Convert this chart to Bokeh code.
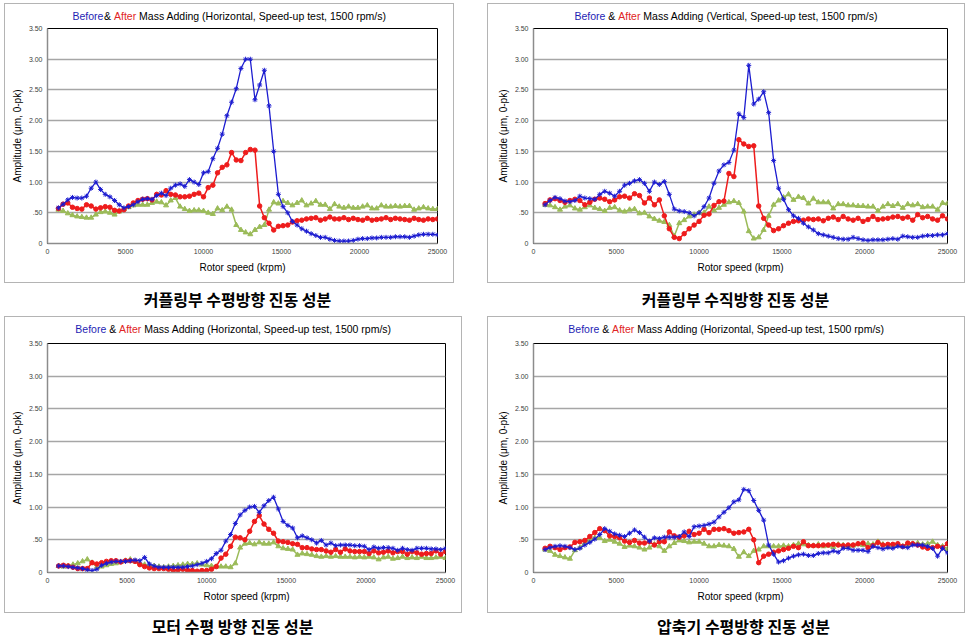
from bokeh.plotting import figure
from bokeh.layouts import column, row
from bokeh.models import FixedTicker, Range1d
from bokeh.core.properties import value
from bokeh.embed import file_html
from bokeh.resources import INLINE

# ---------------- data ----------------
SPEED = [700, 1000, 1300, 1600, 1900, 2200, 2500, 2800, 3100, 3400,
         3700, 4000, 4300, 4600, 4900, 5200, 5500, 5800, 6100, 6400,
         6700, 7000, 7300, 7600, 7900, 8200, 8500, 8800, 9100, 9400,
         9700, 10000, 10300, 10600, 10900, 11200, 11500, 11800, 12100, 12400,
         12700, 13000, 13300, 13600, 13900, 14200, 14500, 14800, 15100, 15400,
         15700, 16000, 16300, 16600, 16900, 17200, 17500, 17800, 18100, 18400,
         18700, 19000, 19300, 19600, 19900, 20200, 20500, 20800, 21100, 21400,
         21700, 22000, 22300, 22600, 22900, 23200, 23500, 23800, 24100, 24400,
         24700, 25000]

# Coupling, horizontal
P1_BEFORE = [0.58, 0.64, 0.71, 0.75, 0.74, 0.74, 0.77, 0.90, 1.00, 0.88,
             0.80, 0.76, 0.70, 0.63, 0.58, 0.60, 0.63, 0.68, 0.72, 0.73,
             0.72, 0.78, 0.82, 0.78, 0.90, 0.95, 0.97, 0.93, 1.04, 1.00,
             0.96, 1.15, 1.17, 1.38, 1.55, 1.78, 2.08, 2.30, 2.52, 2.85,
             3.00, 3.00, 2.34, 2.58, 2.82, 2.24, 1.50, 0.80, 0.60, 0.50,
             0.36, 0.30, 0.24, 0.20, 0.16, 0.13, 0.10, 0.10, 0.07, 0.05,
             0.04, 0.04, 0.04, 0.05, 0.07, 0.08, 0.08, 0.09, 0.09, 0.10,
             0.10, 0.10, 0.11, 0.11, 0.11, 0.10, 0.12, 0.14, 0.15, 0.15,
             0.15, 0.14]
P1_AFTER = [0.57, 0.64, 0.66, 0.59, 0.57, 0.56, 0.63, 0.61, 0.56, 0.58,
            0.60, 0.59, 0.54, 0.53, 0.55, 0.61, 0.66, 0.70, 0.72, 0.73,
            0.71, 0.80, 0.79, 0.86, 0.80, 0.79, 0.76, 0.76, 0.77, 0.80,
            0.82, 0.76, 0.91, 0.95, 1.15, 1.24, 1.28, 1.48, 1.36, 1.35,
            1.48, 1.53, 1.52, 0.61, 0.42, 0.33, 0.22, 0.28, 0.29, 0.30,
            0.35, 0.37, 0.38, 0.40, 0.41, 0.42, 0.38, 0.40, 0.43, 0.40,
            0.40, 0.42, 0.39, 0.41, 0.39, 0.38, 0.41, 0.38, 0.39, 0.40,
            0.42, 0.39, 0.41, 0.40, 0.39, 0.38, 0.41, 0.39, 0.38, 0.40,
            0.39, 0.40]
P1_THIRD = [0.55, 0.53, 0.49, 0.46, 0.44, 0.43, 0.42, 0.42, 0.47, 0.51,
            0.52, 0.50, 0.47, 0.52, 0.56, 0.59, 0.62, 0.63, 0.63, 0.63,
            0.66, 0.68, 0.67, 0.62, 0.70, 0.74, 0.60, 0.56, 0.53, 0.54,
            0.54, 0.53, 0.50, 0.48, 0.57, 0.54, 0.60, 0.55, 0.30, 0.22,
            0.18, 0.15, 0.22, 0.27, 0.30, 0.55, 0.67, 0.65, 0.69, 0.66,
            0.62, 0.66, 0.70, 0.62, 0.65, 0.69, 0.63, 0.63, 0.56, 0.64,
            0.60, 0.58, 0.60, 0.58, 0.58, 0.60, 0.62, 0.57, 0.57, 0.62,
            0.60, 0.60, 0.61, 0.60, 0.61, 0.61, 0.55, 0.57, 0.59, 0.57,
            0.56, 0.56]

# Coupling, vertical
P2_BEFORE = [0.63, 0.70, 0.75, 0.73, 0.69, 0.68, 0.70, 0.77, 0.74, 0.73,
             0.72, 0.80, 0.85, 0.82, 0.77, 0.85, 0.95, 0.98, 1.02, 1.04,
             0.98, 0.85, 1.00, 0.96, 1.01, 0.80, 0.56, 0.53, 0.52, 0.50,
             0.45, 0.50, 0.60, 0.74, 0.98, 1.18, 1.28, 1.32, 1.52, 2.11,
             2.05, 2.90, 2.27, 2.35, 2.47, 2.13, 1.35, 0.90, 0.72, 0.55,
             0.45, 0.41, 0.33, 0.27, 0.22, 0.16, 0.14, 0.12, 0.10, 0.08,
             0.07, 0.07, 0.10, 0.08, 0.06, 0.05, 0.06, 0.06, 0.06, 0.07,
             0.08, 0.07, 0.12, 0.11, 0.10, 0.10, 0.12, 0.13, 0.13, 0.14,
             0.14, 0.16]
P2_AFTER = [0.65, 0.71, 0.73, 0.70, 0.67, 0.70, 0.72, 0.70, 0.63, 0.67,
            0.72, 0.74, 0.72, 0.68, 0.71, 0.76, 0.77, 0.74, 0.81, 0.78,
            0.66, 0.74, 0.63, 0.71, 0.45, 0.24, 0.10, 0.08, 0.16, 0.24,
            0.30, 0.36, 0.46, 0.48, 0.62, 0.68, 0.69, 1.14, 1.09, 1.69,
            1.62, 1.58, 1.59, 0.61, 0.41, 0.30, 0.21, 0.24, 0.29, 0.33,
            0.36, 0.37, 0.38, 0.40, 0.39, 0.40, 0.37, 0.41, 0.43, 0.39,
            0.44, 0.40, 0.38, 0.41, 0.36, 0.39, 0.44, 0.39, 0.40, 0.41,
            0.43, 0.44, 0.41, 0.43, 0.38, 0.47, 0.42, 0.44, 0.40, 0.38,
            0.45, 0.40]
P2_THIRD = [0.63, 0.62, 0.59, 0.55, 0.60, 0.62, 0.57, 0.55, 0.59, 0.62,
            0.58, 0.56, 0.53, 0.58, 0.59, 0.54, 0.52, 0.55, 0.56, 0.49,
            0.50, 0.44, 0.40, 0.37, 0.35, 0.30, 0.12, 0.33, 0.38, 0.44,
            0.47, 0.50, 0.50, 0.60, 0.54, 0.58, 0.63, 0.67, 0.69, 0.66,
            0.52, 0.20, 0.08, 0.10, 0.22, 0.45, 0.63, 0.70, 0.75, 0.80,
            0.71, 0.76, 0.74, 0.65, 0.73, 0.67, 0.67, 0.67, 0.57, 0.64,
            0.64, 0.62, 0.62, 0.61, 0.61, 0.60, 0.60, 0.53, 0.60, 0.64,
            0.61, 0.64, 0.58, 0.64, 0.62, 0.64, 0.59, 0.60, 0.60, 0.55,
            0.66, 0.65]

# Motor, horizontal
P3_BEFORE = [0.10, 0.10, 0.09, 0.08, 0.07, 0.06, 0.04, 0.03, 0.05, 0.11,
             0.14, 0.16, 0.17, 0.17, 0.17, 0.18, 0.19, 0.18, 0.23, 0.13,
             0.10, 0.08, 0.08, 0.08, 0.08, 0.08, 0.08, 0.09, 0.10, 0.12,
             0.14, 0.17, 0.21, 0.29, 0.34, 0.48, 0.58, 0.75, 0.88, 0.95,
             1.00, 1.01, 0.92, 1.02, 1.10, 1.15, 0.97, 0.78, 0.72, 0.68,
             0.53, 0.56, 0.53, 0.50, 0.45, 0.49, 0.42, 0.45, 0.41, 0.42,
             0.42, 0.42, 0.41, 0.41, 0.40, 0.35, 0.39, 0.37, 0.38, 0.38,
             0.37, 0.34, 0.37, 0.35, 0.34, 0.37, 0.37, 0.37, 0.36, 0.36,
             0.35, 0.37]
P3_AFTER = [0.10, 0.11, 0.10, 0.08, 0.06, 0.06, 0.06, 0.15, 0.13, 0.15,
            0.17, 0.18, 0.18, 0.16, 0.18, 0.18, 0.17, 0.12, 0.09, 0.07,
            0.06, 0.06, 0.06, 0.05, 0.03, 0.04, 0.05, 0.03, 0.03, 0.02,
            0.03, 0.03, 0.05, 0.09, 0.22, 0.28, 0.40, 0.54, 0.53, 0.50,
            0.63, 0.78, 0.87, 0.74, 0.66, 0.60, 0.48, 0.47, 0.46, 0.44,
            0.43, 0.38, 0.38, 0.36, 0.35, 0.35, 0.33, 0.31, 0.35, 0.31,
            0.36, 0.33, 0.32, 0.32, 0.32, 0.29, 0.33, 0.30, 0.31, 0.33,
            0.30, 0.32, 0.32, 0.28, 0.32, 0.30, 0.28, 0.29, 0.29, 0.33,
            0.28, 0.32]
P3_THIRD = [0.10, 0.09, 0.10, 0.12, 0.14, 0.17, 0.20, 0.15, 0.08, 0.09,
            0.11, 0.13, 0.14, 0.16, 0.18, 0.20, 0.17, 0.14, 0.12, 0.11,
            0.10, 0.09, 0.08, 0.09, 0.10, 0.11, 0.12, 0.13, 0.13, 0.14,
            0.12, 0.11, 0.10, 0.09, 0.09, 0.09, 0.08, 0.14, 0.38, 0.44,
            0.45, 0.43, 0.46, 0.44, 0.44, 0.46, 0.40, 0.37, 0.36, 0.35,
            0.27, 0.29, 0.28, 0.27, 0.25, 0.24, 0.25, 0.24, 0.25, 0.24,
            0.24, 0.24, 0.23, 0.24, 0.23, 0.24, 0.23, 0.20, 0.23, 0.24,
            0.21, 0.22, 0.24, 0.22, 0.23, 0.22, 0.24, 0.22, 0.22, 0.23,
            0.24, 0.22]

# Compressor, horizontal
P4_BEFORE = [0.35, 0.38, 0.40, 0.41, 0.40, 0.38, 0.35, 0.37, 0.42, 0.46,
             0.51, 0.58, 0.67, 0.63, 0.59, 0.57, 0.55, 0.60, 0.65, 0.61,
             0.54, 0.48, 0.53, 0.52, 0.54, 0.54, 0.54, 0.55, 0.62, 0.55,
             0.70, 0.71, 0.72, 0.74, 0.77, 0.85, 0.92, 0.99, 1.08, 1.11,
             1.27, 1.25, 1.10, 0.95, 0.80, 0.42, 0.28, 0.16, 0.18, 0.22,
             0.25, 0.27, 0.28, 0.26, 0.26, 0.29, 0.30, 0.30, 0.33, 0.31,
             0.37, 0.37, 0.34, 0.34, 0.34, 0.32, 0.40, 0.38, 0.36, 0.38,
             0.37, 0.40, 0.39, 0.38, 0.42, 0.42, 0.42, 0.40, 0.37, 0.25,
             0.37, 0.30]
P4_AFTER = [0.37, 0.40, 0.38, 0.35, 0.38, 0.39, 0.46, 0.47, 0.49, 0.55,
            0.61, 0.67, 0.64, 0.56, 0.55, 0.53, 0.48, 0.46, 0.49, 0.45,
            0.45, 0.47, 0.42, 0.47, 0.47, 0.62, 0.56, 0.54, 0.56, 0.63,
            0.58, 0.60, 0.66, 0.61, 0.66, 0.66, 0.67, 0.64, 0.60, 0.61,
            0.62, 0.66, 0.50, 0.15, 0.25, 0.28, 0.31, 0.33, 0.35, 0.37,
            0.40, 0.38, 0.47, 0.41, 0.41, 0.41, 0.42, 0.42, 0.43, 0.42,
            0.41, 0.42, 0.42, 0.44, 0.45, 0.38, 0.41, 0.46, 0.42, 0.43,
            0.43, 0.44, 0.40, 0.45, 0.44, 0.42, 0.39, 0.37, 0.38, 0.40,
            0.38, 0.44]
P4_THIRD = [0.35, 0.33, 0.27, 0.25, 0.23, 0.21, 0.34, 0.38, 0.45, 0.50,
            0.53, 0.53, 0.48, 0.50, 0.47, 0.44, 0.39, 0.41, 0.40, 0.38,
            0.35, 0.38, 0.43, 0.40, 0.33, 0.40, 0.45, 0.49, 0.48, 0.46,
            0.47, 0.47, 0.44, 0.40, 0.40, 0.42, 0.41, 0.40, 0.36, 0.24,
            0.31, 0.25, 0.33, 0.35, 0.40, 0.40, 0.40, 0.40, 0.41, 0.40,
            0.42, 0.44, 0.43, 0.42, 0.41, 0.43, 0.40, 0.41, 0.39, 0.43,
            0.42, 0.40, 0.41, 0.43, 0.42, 0.44, 0.43, 0.47, 0.43, 0.39,
            0.41, 0.43, 0.40, 0.42, 0.44, 0.45, 0.43, 0.44, 0.47, 0.42,
            0.40, 0.36]

X_TICKS = [0, 5000, 10000, 15000, 20000, 25000]
Y_TICKS = [0.0, 0.5, 1.0, 1.5, 2.0, 2.5, 3.0, 3.5]
Y_TICK_LABELS = ["0", ".50", "1.00", "1.50", "2.00", "2.50", "3.00", "3.50"]
DIRECTIONS = ["Horizontal", "Vertical", "Horizontal", "Horizontal"]
CAPTIONS = ["커플링부 수평방향 진동 성분", "커플링부 수직방향 진동 성분",
            "모터 수평 방향 진동 성분", "압축기 수평방향 진동 성분"]
X_LABEL = "Rotor speed (krpm)"
Y_LABEL = "Amplitude (μm, 0-pk)"

BLUE = "#1c1cd0"
RED = "#ee1c1c"
GREEN = "#9bbb59"
TITLE_BLUE = "#1e1eb4"
TITLE_RED = "#e02424"
FONT = "Liberation Sans"
TITLE_PX = 10.5
BORDER = {"border": "1px solid #b4b4b4"}

# Arial / Liberation Sans advance widths (per 1000 em)
ADV = {' ': 278, '&': 667, '(': 333, ')': 333, ',': 278, '-': 333, '/': 278,
       'A': 667, 'B': 667, 'H': 722, 'M': 833, 'S': 667, 'V': 667,
       'a': 556, 'b': 556, 'c': 500, 'd': 556, 'e': 556, 'f': 278, 'g': 556,
       'h': 556, 'i': 222, 'k': 500, 'l': 222, 'm': 833, 'n': 556, 'o': 556,
       'p': 556, 'r': 333, 's': 500, 't': 278, 'u': 556, 'z': 500, 'y': 500}


def tw(s):
    return sum(ADV.get(c, 556) for c in s) / 1000.0 * TITLE_PX


def blank(W, H, L, R):
    # frame kept aligned with the chart frame below; x data units == canvas pixels
    f = figure(width=W, height=H, x_range=Range1d(L, W - R), y_range=Range1d(0, H),
               output_backend="svg", toolbar_location=None,
               min_border_left=L, min_border_right=R, min_border_top=0, min_border_bottom=0,
               x_axis_location=None, y_axis_location=None,
               background_fill_color="white", border_fill_color="white")
    f.grid.visible = False
    f.outline_line_color = None
    return f


def title_fig(W, H, L, R, ty, direction, tight_amp):
    f = blank(W, H, L, R)
    rest = "Mass Adding (%s, Speed-up test, 1500 rpm/s)" % direction
    sp = tw(" ")
    texts = ["Before", "&", "After", rest]
    colors = [TITLE_BLUE, "black", TITLE_RED, "black"]
    gaps = [0.6 if tight_amp else sp, sp, sp, 0]
    total = sum(tw(s) for s in texts) + sum(gaps)
    x = W / 2.0 - total / 2.0
    xs = []
    for s, g in zip(texts, gaps):
        xs.append(x)
        x += tw(s) + g
    f.text(x=xs, y=[ty] * 4, text=texts, text_color=colors, text_align="left",
           text_baseline="middle", text_font=value(FONT),
           text_font_size=value("%.1fpx" % TITLE_PX))
    return f


def panel(W, H, L, R, T, B, before, after, third):
    p = figure(width=W, height=H, x_range=Range1d(0, 25000), y_range=Range1d(0, 3.5),
               output_backend="svg", toolbar_location=None,
               min_border_left=L, min_border_right=R, min_border_top=T, min_border_bottom=B,
               background_fill_color="white", border_fill_color="white")
    p.outline_line_color = "black"
    p.outline_line_width = 1
    p.xgrid.grid_line_color = None
    p.ygrid.grid_line_color = "#a6a6a6"
    p.ygrid.grid_line_width = 1.5
    p.xaxis.ticker = FixedTicker(ticks=X_TICKS)
    p.yaxis.ticker = FixedTicker(ticks=Y_TICKS)
    p.yaxis.major_label_overrides = {t: s for t, s in zip(Y_TICKS, Y_TICK_LABELS)}
    for ax in (p.xaxis[0], p.yaxis[0]):
        ax.major_tick_out = 0
        ax.major_tick_in = 0
        ax.minor_tick_out = 0
        ax.minor_tick_in = 0
        ax.axis_line_color = "#8c8c8c"
        ax.axis_line_width = 1.5
        ax.major_label_text_font = FONT
        ax.major_label_text_font_size = "7px"
        ax.major_label_text_color = "#404040"
        ax.major_label_standoff = 5
        ax.axis_label_text_font = FONT
        ax.axis_label_text_font_size = "10px"
        ax.axis_label_text_font_style = "normal"
        ax.axis_label_text_color = "black"
    p.xaxis.axis_label = X_LABEL
    p.yaxis.axis_label = Y_LABEL
    p.xaxis.axis_label_standoff = 5
    p.yaxis.axis_label_standoff = 3

    p.line(SPEED, third, line_color=GREEN, line_width=1.5)
    p.scatter(SPEED, third, marker="triangle", size=5, fill_color=GREEN, line_color=GREEN)
    p.line(SPEED, after, line_color=RED, line_width=1.5)
    p.scatter(SPEED, after, marker="circle", size=4.5, fill_color=RED, line_color=RED)
    p.line(SPEED, before, line_color=BLUE, line_width=1.3)
    p.scatter(SPEED, before, marker="asterisk", size=5, line_color=BLUE, line_width=1)
    return p


def caption(W, H, L, R, cx, ty, text):
    c = blank(W, H, L, R)
    c.text(x=[cx], y=[ty], text=[text], text_align="center", text_baseline="middle",
           text_font=value("Noto Sans CJK KR"), text_font_style="bold",
           text_font_size=value("16px"), text_color="black")
    return c


def block(W, title_h, title_y, plot_h, L, R, T, B, series, direction, tight, cap_h, cap_x, cap_y, cap):
    t = title_fig(W, title_h, L, R, title_y, direction, tight)
    p = panel(W, plot_h, L, R, T, B, *series)
    box = column(t, p, spacing=0, styles=BORDER)
    c = caption(W + 2, cap_h, L + 1, R + 1, cap_x, cap_y, cap)
    return column(box, c, spacing=0)


b1 = block(448, 20, 9, 258, 42, 16, 4, 39, (P1_BEFORE, P1_AFTER, P1_THIRD),
           DIRECTIONS[0], True, 30, 233, 15, CAPTIONS[0])
b2 = block(476, 20, 9, 258, 45, 17, 4, 39, (P2_BEFORE, P2_AFTER, P2_THIRD),
           DIRECTIONS[1], False, 30, 248, 15, CAPTIONS[1])
b3 = block(456, 20, 9, 275, 42, 16, 6, 40, (P3_BEFORE, P3_AFTER, P3_THIRD),
           DIRECTIONS[2], False, 24, 228, 12, CAPTIONS[2])
b4 = block(476, 20, 9, 275, 45, 17, 6, 40, (P4_BEFORE, P4_AFTER, P4_THIRD),
           DIRECTIONS[3], False, 24, 256, 12, CAPTIONS[3])

r1 = row(b1, b2, spacing=33)
r2 = row(b3, b4, spacing=25)
layout = column(r1, r2, spacing=3, margin=(3, 0, 0, 4))

open("out.html", "w").write(file_html(layout, INLINE))
